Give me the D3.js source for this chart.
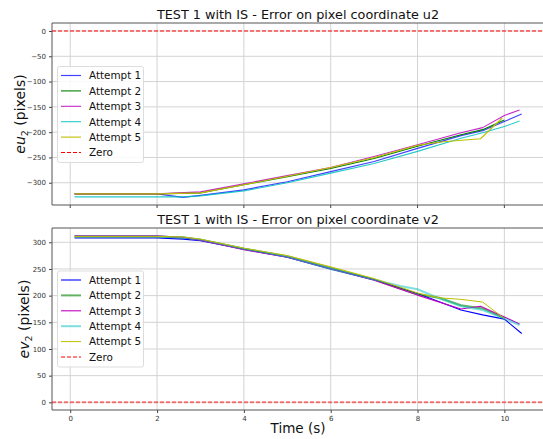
<!DOCTYPE html>
<html><head><meta charset="utf-8">
<script src="https://cdn.jsdelivr.net/npm/d3@7"></script>
<style>body{margin:0;background:#fff}svg{display:block}text{font-family:"DejaVu Sans",sans-serif}</style>
</head><body><svg id="c" width="543" height="439"></svg>
<script>
const xTicks = [0, 2, 4, 6, 8, 10];
const uTicks = [0, -50, -100, -150, -200, -250, -300];
const vTicks = [0, 50, 100, 150, 200, 250, 300];
const labels = ["Attempt 1", "Attempt 2", "Attempt 3", "Attempt 4", "Attempt 5"];

// u2 error (top)
const u1t = [0.1, 2.0, 2.6, 3, 4, 5, 6, 7, 8, 9, 9.5, 10, 10.4];
const u1v = [-322, -322, -329, -325, -314, -298, -278, -258, -232, -207, -197, -179, -164];
const u2t = [0.1, 2.0, 3, 4, 5, 6, 7, 8, 9, 9.5, 10];
const u2v = [-322, -322, -320, -304, -288, -272, -252, -228, -205, -195, -176];
const u3t = [0.1, 2.0, 3, 4, 5, 6, 7, 8, 9, 9.5, 10, 10.35];
const u3v = [-322, -322, -318, -302, -286, -270, -248, -225, -201, -191, -167, -156];
const u4t = [0.1, 2.6, 3, 4, 5, 6, 7, 8, 9, 9.5, 10, 10.35];
const u4v = [-328, -328, -326, -316, -300, -281, -262, -238, -212, -201, -189, -178];
const u5t = [0.1, 2.0, 3, 4, 5, 6, 7, 8, 8.6, 9.45, 9.95];
const u5v = [-322, -322, -320, -304, -287, -270, -250, -226, -219, -213, -172];

// v2 error (bottom)
const v1t = [0.1, 2.0, 2.6, 3, 4, 5, 6, 7, 8, 9, 9.5, 10, 10.4];
const v1v = [308, 308, 306, 303, 287, 272, 250, 230, 204, 173, 164, 156, 129];
const v2t = [0.1, 2.0, 2.6, 3, 4, 5, 6, 7, 8, 8.5, 9, 9.5, 10];
const v2v = [311, 311, 309, 305, 288, 274, 252, 230, 202, 196, 182, 176, 158];
const v3t = [0.1, 2.0, 2.6, 3, 4, 5, 6, 7, 8, 9, 9.45, 10, 10.35];
const v3v = [312, 312, 309, 304, 286, 272, 250, 229, 201, 175, 180, 160, 147];
const v4t = [0.1, 2.0, 2.6, 3, 4, 5, 6, 7, 7.6, 8, 8.5, 9, 9.5, 10, 10.35];
const v4v = [311, 311, 309, 305, 288, 273, 250, 230, 218, 212, 195, 180, 173, 157, 145];
const v5t = [0.1, 2.0, 2.6, 3, 4, 5, 6, 7, 8, 8.5, 9, 9.5, 10];
const v5v = [311, 311, 310, 306, 289, 275, 254, 232, 205, 196, 193, 188, 157];

const colors = ["#0000ff", "#008000", "#bf00bf", "#00bfbf", "#bfbf00"];
const svg = d3.select("#c");

function panel(o) {
  const x = d3.scaleLinear().domain([-0.42, 10.89]).range([52, 543]);
  const y = d3.scaleLinear().domain(o.ydom).range([o.bottom, o.top]);
  const g = svg.append("g");
  // grid
  g.selectAll(".gx").data(xTicks).join("line")
    .attr("x1", d => x(d)).attr("x2", d => x(d)).attr("y1", o.top).attr("y2", o.bottom)
    .attr("stroke", "#d3d3d3").attr("stroke-width", 1);
  g.selectAll(".gy").data(o.yticks).join("line")
    .attr("x1", 52).attr("x2", 543).attr("y1", d => y(d)).attr("y2", d => y(d))
    .attr("stroke", "#d3d3d3").attr("stroke-width", 1);
  // axes
  const ya = d3.axisLeft(y).tickValues(o.yticks).tickSize(3).tickPadding(3).tickFormat(d => d < 0 ? "\u2212" + Math.abs(d) : d);
  const ag = g.append("g").attr("transform", "translate(52,0)").call(ya);
  ag.select(".domain").remove();
  ag.selectAll("line").attr("stroke", "#444");
  ag.selectAll("text").attr("font-size", 7).attr("fill", "#333");
  if (o.xlabels) {
    const xa = d3.axisBottom(x).tickValues(xTicks).tickSize(3).tickPadding(3);
    const xg = g.append("g").attr("transform", `translate(0,${o.bottom})`).call(xa);
    xg.select(".domain").remove();
    xg.selectAll("line").attr("stroke", "#444");
    xg.selectAll("text").attr("font-size", 7).attr("fill", "#333");
  } else {
    g.selectAll(".tx").data(xTicks).join("line")
      .attr("x1", d => x(d)).attr("x2", d => x(d)).attr("y1", o.bottom).attr("y2", o.bottom + 3)
      .attr("stroke", "#444");
  }
  // spines
  g.append("line").attr("x1", 52).attr("x2", 543).attr("y1", o.top).attr("y2", o.top).attr("stroke", "#555").attr("stroke-width", 1);
  g.append("line").attr("x1", 52).attr("x2", 543).attr("y1", o.bottom).attr("y2", o.bottom).attr("stroke", "#555").attr("stroke-width", 1);
  g.append("line").attr("x1", 52).attr("x2", 52).attr("y1", o.top).attr("y2", o.bottom).attr("stroke", "#555").attr("stroke-width", 1);

  const line = d3.line().x(d => x(d[0])).y(d => y(d[1]));
  o.series.forEach((s, i) => {
    const pts = s.t.map((t, k) => [t, s.v[k]]);
    g.append("path").datum(pts).attr("d", line).attr("fill", "none")
      .attr("stroke", colors[i]).attr("stroke-width", o.styles[i].w).attr("stroke-opacity", o.styles[i].a)
      .attr("stroke-linejoin", "round");
  });
  // zero line
  g.append("path").datum([[-0.42, 0], [10.89, 0]]).attr("d", line).attr("fill", "none")
    .attr("stroke", "#ff0000").attr("stroke-width", o.zero.w).attr("stroke-opacity", o.zero.a)
    .attr("stroke-dasharray", "4,2");

  // title
  g.append("text").attr("x", 298).attr("y", o.top - 4.5).attr("text-anchor", "middle")
    .attr("font-size", 12.8).attr("fill", "#111").text(o.title);
  // y label
  const yl = g.append("text").attr("transform", `translate(${o.ylx},${(o.top + o.bottom) / 2}) rotate(-90)`)
    .attr("text-anchor", "middle").attr("font-size", 14).attr("fill", "#111");
  yl.append("tspan").attr("font-style", "italic").text(o.ylab);
  yl.append("tspan").attr("font-size", 9.5).attr("dy", 3).text("2");
  yl.append("tspan").attr("dy", -3).text(" (pixels)");

  // legend
  const lg = g.append("g");
  const entries = labels.map((l, i) => ({ l, c: colors[i], w: o.styles[i].w, a: o.styles[i].a, dash: null }))
    .concat([{ l: "Zero", c: "#ff0000", w: o.zero.w, a: o.zero.a, dash: "4,2" }]);
  lg.append("rect").attr("x", 57.5).attr("y", o.legTop).attr("width", 86).attr("height", 96).attr("rx", 2)
    .attr("fill", "#fff").attr("fill-opacity", 0.85).attr("stroke", "#ddd");
  entries.forEach((e, i) => {
    const yy = o.legTop + 9 + i * 15.4;
    lg.append("line").attr("x1", 61).attr("x2", 81).attr("y1", yy).attr("y2", yy)
      .attr("stroke", e.c).attr("stroke-width", e.w).attr("stroke-opacity", e.a).attr("stroke-dasharray", e.dash);
    lg.append("text").attr("x", 89).attr("y", yy + 3.8).attr("font-size", 10.4).attr("fill", "#111").text(e.l);
  });
}

panel({
  top: 23, bottom: 205, ydom: [-344, 15.8], yticks: uTicks,
  title: "TEST 1 with IS - Error on pixel coordinate u2", ylab: "eu", ylx: 25, legTop: 66.5, xlabels: false,
  series: [{ t: u1t, v: u1v }, { t: u2t, v: u2v }, { t: u3t, v: u3v }, { t: u4t, v: u4v }, { t: u5t, v: u5v }],
  styles: [{ w: 1.2, a: 0.75 }, { w: 1.1, a: 1 }, { w: 1.1, a: 0.85 }, { w: 1.1, a: 0.85 }, { w: 1.1, a: 1 }],
  zero: { w: 1, a: 1 }
});
panel({
  top: 228, bottom: 410, ydom: [-14.4, 326.8], yticks: vTicks,
  title: "TEST 1 with IS - Error on pixel coordinate v2", ylab: "ev", ylx: 29, legTop: 271, xlabels: true,
  series: [{ t: v1t, v: v1v }, { t: v2t, v: v2v }, { t: v3t, v: v3v }, { t: v4t, v: v4v }, { t: v5t, v: v5v }],
  styles: [{ w: 1.1, a: 1 }, { w: 2, a: 0.6 }, { w: 1.1, a: 1 }, { w: 2, a: 0.5 }, { w: 1, a: 1 }],
  zero: { w: 2, a: 0.5 }
});

svg.append("text").attr("x", 298).attr("y", 433).attr("text-anchor", "middle")
  .attr("font-size", 13.5).attr("fill", "#111").text("Time (s)");
</script></body></html>
